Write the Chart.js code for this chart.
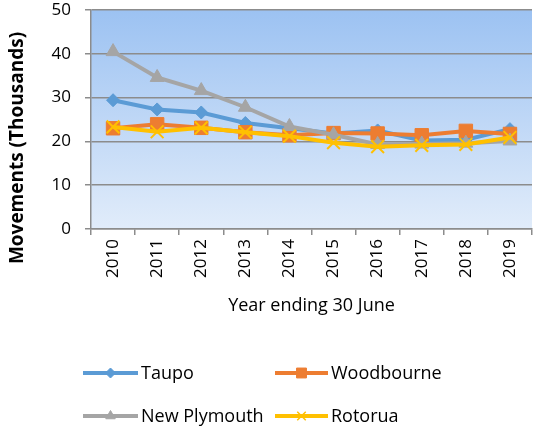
<!DOCTYPE html>
<html>
<head>
<meta charset="utf-8">
<script src="https://cdn.jsdelivr.net/npm/chart.js@4/dist/chart.umd.min.js"></script>
<style>
  html, body { margin: 0; padding: 0; background: #fff; }
  #wrap { width: 534px; height: 429px; }
</style>
</head>
<body>
<div id="wrap"><canvas id="chart" width="534" height="429"></canvas></div>
<script>
// Données
const years = ['2010', '2011', '2012', '2013', '2014', '2015', '2016', '2017', '2018', '2019'];
const taupo = [29.4, 27.3, 26.6, 24.2, 23.0, 21.8, 22.5, 20.2, 20.4, 22.8];
const woodbourne = [23.0, 23.9, 23.1, 22.1, 21.4, 21.9, 21.8, 21.4, 22.4, 21.7];
const newPlymouth = [40.5, 34.6, 31.6, 27.8, 23.4, 21.5, 19.3, 19.4, 19.6, 20.1];
const rotorua = [23.3, 22.2, 23.1, 22.1, 21.2, 19.7, 18.8, 19.1, 19.3, 20.9];
const yTicks = [0, 10, 20, 30, 40, 50];

const FONT = '"Open Sans"';

const SERIES = [
  { label: 'Taupo', data: taupo, color: '#5B9BD5', style: 'rectRot', radius: 6.5, legendRadius: 5 },
  { label: 'Woodbourne', data: woodbourne, color: '#ED7D31', style: 'rect', radius: 9.5, legendRadius: 7 },
  { label: 'New Plymouth', data: newPlymouth, color: '#A5A5A5', style: 'triangle', radius: 8, legendRadius: 5.5 },
  { label: 'Rotorua', data: rotorua, color: '#FFC000', style: 'crossRot', radius: 9, legendRadius: 6 }
];

// Fond dégradé de la zone de tracé
const plotBackground = {
  id: 'plotBackground',
  beforeDraw(chart) {
    const { ctx, chartArea: a } = chart;
    const g = ctx.createLinearGradient(0, a.top, 0, a.bottom);
    g.addColorStop(0, '#9CC2F2');
    g.addColorStop(1, '#E1ECFA');
    ctx.save();
    ctx.fillStyle = g;
    ctx.fillRect(a.left, a.top, a.right - a.left, a.bottom - a.top);
    ctx.restore();
  }
};

// Titre de l'axe Y et légende dessinés à la main
const extras = {
  id: 'extras',
  afterDraw(chart) {
    const ctx = chart.ctx;
    ctx.save();
    ctx.fillStyle = '#000';
    ctx.font = `bold 19px ${FONT}`;
    ctx.textAlign = 'center';
    ctx.textBaseline = 'middle';
    ctx.translate(18, 148);
    ctx.rotate(-Math.PI / 2);
    ctx.fillText('Movements (Thousands)', 0, 0);
    ctx.restore();

    const slots = [
      { x0: 83, x1: 138, y: 373 },
      { x0: 275, x1: 328, y: 373 },
      { x0: 83, x1: 138, y: 416 },
      { x0: 275, x1: 328, y: 416 }
    ];
    ctx.save();
    ctx.font = `18px ${FONT}`;
    ctx.textBaseline = 'middle';
    ctx.textAlign = 'left';
    SERIES.forEach((s, i) => {
      const p = slots[i];
      ctx.strokeStyle = s.color;
      ctx.fillStyle = s.color;
      ctx.lineWidth = 4;
      ctx.beginPath();
      ctx.moveTo(p.x0, p.y);
      ctx.lineTo(p.x1, p.y);
      ctx.stroke();
      ctx.lineWidth = s.style === 'crossRot' ? 1.5 : 1;
      Chart.helpers.drawPoint(ctx, {
        pointStyle: s.style, radius: s.legendRadius, rotation: 0, borderWidth: ctx.lineWidth
      }, (p.x0 + p.x1) / 2, p.y);
      ctx.fillStyle = '#000';
      ctx.fillText(s.label, p.x1 + 3, p.y + 1);
    });
    ctx.restore();
  }
};

function makeDataset(s, i) {
  return {
    label: s.label,
    data: s.data,
    order: SERIES.length - i,
    borderColor: s.color,
    backgroundColor: s.color,
    borderWidth: 4,
    pointStyle: s.style,
    pointRadius: s.radius,
    pointBorderColor: s.color,
    pointBackgroundColor: s.color,
    pointBorderWidth: s.style === 'crossRot' ? 2 : 1,
    tension: 0
  };
}

new Chart(document.getElementById('chart'), {
  type: 'line',
  data: { labels: years, datasets: SERIES.map(makeDataset) },
  plugins: [plotBackground, extras],
  options: {
    responsive: false,
    animation: false,
    devicePixelRatio: 1,
    layout: { autoPadding: false, padding: { left: 0, top: 10, right: 2, bottom: 100 } },
    plugins: { legend: { display: false }, tooltip: { enabled: false } },
    scales: {
      x: {
        offset: true,
        afterFit(scale) {
          scale.height = 100;
          scale.paddingLeft = 0;
          scale.paddingRight = 0;
        },
        grid: { offset: true, drawOnChartArea: false, color: '#8C8C8C', lineWidth: 1.5, tickLength: 6 },
        border: { color: '#8C8C8C', width: 1.5 },
        ticks: { minRotation: 90, maxRotation: 90, color: '#000', font: { family: FONT, size: 17 }, padding: 4 },
        title: { display: true, text: 'Year ending 30 June', color: '#000', font: { family: FONT, size: 18 }, padding: { top: 4, bottom: 12 } }
      },
      y: {
        min: 0,
        max: 50,
        afterFit(scale) {
          scale.width = 91;
          scale.paddingTop = 0;
          scale.paddingBottom = 0;
        },
        afterBuildTicks(scale) { scale.ticks = yTicks.map(v => ({ value: v })); },
        grid: { color: '#8C8C8C', lineWidth: 1.5, tickLength: 6 },
        border: { color: '#8C8C8C', width: 1.5 },
        ticks: { color: '#000', font: { family: FONT, size: 17 }, padding: 14 }
      }
    }
  }
});
</script>
</body>
</html>
